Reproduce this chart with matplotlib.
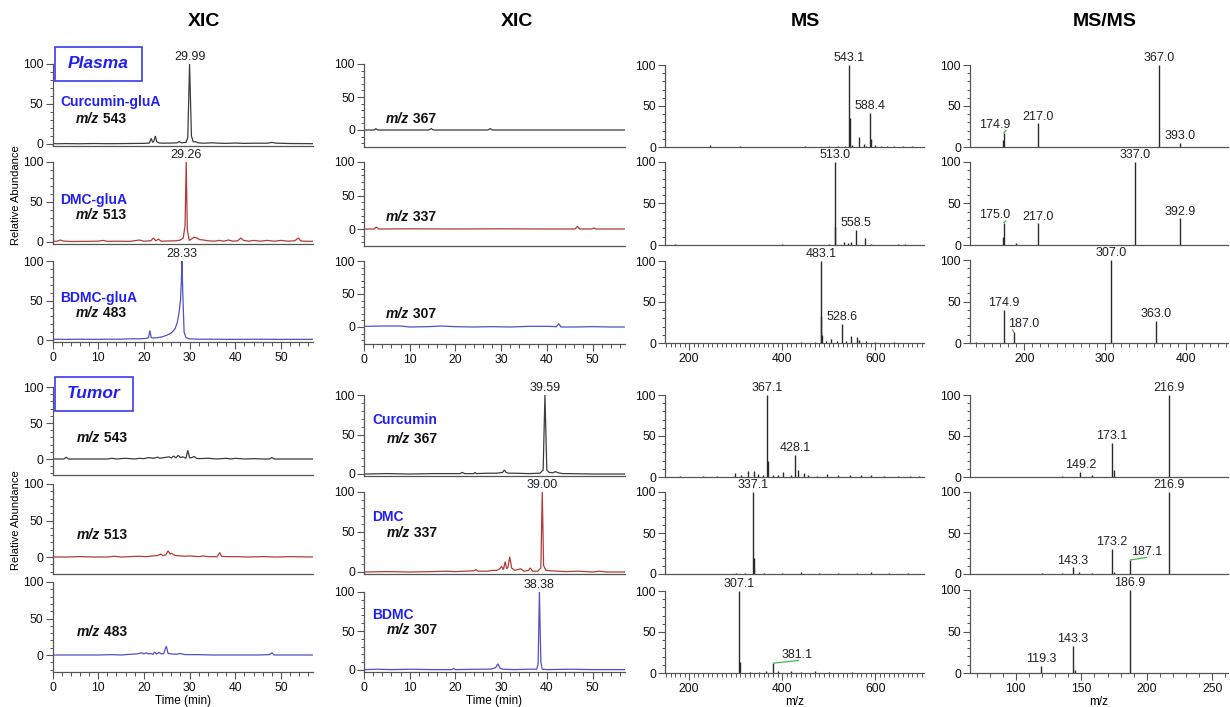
import matplotlib
matplotlib.use('Agg')
import matplotlib.pyplot as plt
from matplotlib.ticker import MultipleLocator, FixedLocator
from matplotlib.patches import Rectangle

# ---------------- DATA ----------------
col_titles = ["XIC", "XIC", "MS", "MS/MS"]

# Column 1: glucuronide XICs (plasma)
xic_p543_t = [0, 1, 3, 6, 9, 12, 15, 18, 20, 21.2, 21.6, 21.9, 22.2, 22.5, 22.8, 23.2, 24, 26, 27.3, 27.7, 28.2,
              29.2, 29.6, 29.99, 30.4, 30.8, 31.3, 31.8, 33, 35, 36.5, 38, 40, 42, 44, 47, 48, 49, 52, 57]
xic_p543_y = [0.5, 0.3, 0.5, 0.3, 0.6, 0.4, 0.5, 0.7, 0.8, 1.2, 7, 2, 4, 10, 3, 1.5, 1, 1.2, 1.5, 3, 1.5,
              2, 8, 100, 10, 2.5, 3, 1.5, 1, 1.5, 1, 0.8, 1.2, 0.8, 1, 1, 2, 1, 0.6, 0.4]
xic_p513_t = [0, 1, 1.7, 2.4, 4, 7, 10, 11, 12, 14, 17, 19, 20, 21.5, 22.1, 22.6, 23.2, 23.8, 25, 27, 28, 28.6,
              29.0, 29.26, 29.5, 29.9, 30.5, 31, 31.6, 32.2, 33, 34, 35.5, 36.5, 37.5, 38.5, 39.5, 40.5, 41.2,
              41.8, 43, 44, 45.5, 47, 48.5, 50, 51.5, 53, 53.8, 54.3, 55, 57]
xic_p513_y = [0.8, 1, 2.5, 1.2, 0.6, 0.8, 1, 2, 0.8, 1, 0.8, 2.5, 1, 1.5, 5, 1.5, 3.5, 1, 1.2, 1.5, 2.5, 5,
              20, 100, 15, 2, 4, 6, 5, 3, 2.5, 1.5, 1, 2, 1, 2.5, 1, 1.5, 5,
              2, 1, 2, 1, 2, 1, 2, 1, 1.5, 5, 1.5, 1, 0.8]
xic_p483_t = [0, 3, 6, 9, 12, 15, 17, 19, 20.5, 21.0, 21.3, 21.6, 22, 23, 24, 25, 26, 26.8, 27.3, 27.7, 28.0,
              28.2, 28.33, 28.5, 28.8, 29.2, 30, 32, 35, 40, 45, 50, 57]
xic_p483_y = [1, 0.8, 1, 0.8, 1, 1, 1.5, 1.5, 2, 3, 12, 3, 2.5, 3, 4, 6, 9, 14, 22, 35, 50,
              75, 100, 60, 10, 3, 1.5, 1, 1, 0.8, 1, 0.8, 0.8]

# Column 2: parent XICs (plasma)
xic_p367_t = [0, 2.2, 2.6, 3.0, 10, 14.2, 14.7, 15.2, 27.1, 27.6, 28.1, 57]
xic_p367_y = [0, 0, 2, 0, 0, 0, 2, 0, 0, 2, 0, 0]
xic_p337_t = [0, 2.2, 2.7, 3.2, 10, 20, 30, 40, 46.2, 46.7, 47.2, 49.8, 50.3, 50.8, 57]
xic_p337_y = [0, 0, 3, 0, 0.3, 0, 0.3, 0, 0, 4, 0, 0, 1.5, 0, 0]
xic_p307_t = [0, 4, 8, 10, 14, 17, 20, 24, 28, 32, 36, 40, 42.1, 42.6, 43.1, 46, 50, 54, 57]
xic_p307_y = [1, 1.5, 1.5, 0, 0.5, 1.5, 0.5, 0, 0.5, 0, 1, 1, 0.5, 5, 0, 0, 0.5, 0, 0]

# Column 1: glucuronide XICs (tumor)
xic_t543_t = [0, 2.5, 3, 3.5, 6, 9, 12, 13, 14, 16, 18, 19, 20, 21, 22, 23, 23.5, 24.5, 25.5, 26, 26.5, 27,
              27.5, 28, 28.5, 29.2, 29.6, 30.0, 30.5, 31, 31.5, 32, 34, 36, 38, 39, 40, 42, 44, 46, 47.5, 48,
              48.5, 52, 57]
xic_t543_y = [0, 0, 2.5, 0, 0, 0, 0, 1, 0, 1, 0, 1, 0.5, 2, 1, 2.5, 1, 2, 3, 1.5, 4, 1.5,
              5, 2, 3, 1, 12, 1.5, 2, 3.5, 1, 0.5, 1, 0, 1, 0, 1, 0, 0.5, 0, 0, 2,
              0, 0, 0]
xic_t513_t = [0, 3, 6, 9, 12, 13.5, 15, 17, 19, 20.5, 22, 23, 23.7, 24.2, 24.8, 25.3, 25.7, 26.1, 26.5, 27, 28,
              29, 30, 32, 33, 34, 36, 36.6, 37, 38, 40, 43, 46, 49, 52, 57]
xic_t513_y = [0, 0, 0.5, 0, 0, 1, 0, 0.5, 1, 0.5, 1.5, 2, 4, 2, 3, 8.5, 4, 5, 3, 2, 1.5,
              1, 1.5, 0.5, 1.5, 0.5, 0.5, 6, 1, 0.5, 0.5, 0, 0.5, 0, 0.5, 0]
xic_t483_t = [0, 5, 10, 13, 15, 17, 18.5, 19.5, 20, 20.5, 21, 21.5, 22, 22.3, 22.8, 23.3, 23.8, 24.3, 24.9, 25.3,
              26, 27, 28, 29, 30, 32, 35, 40, 45, 47.5, 48, 48.5, 52, 57]
xic_t483_y = [0, 0, 0, 0.5, 0, 1, 1.5, 3, 1.5, 3, 1.5, 2, 1, 4, 1.5, 3.5, 1.5, 2, 12, 2,
              1.5, 1, 2, 0.5, 0.5, 0.5, 0, 0, 0, 0.5, 3, 0, 0, 0]

# Column 2: parent XICs (tumor)
xic_t367_t = [0, 5, 10, 15, 20, 21, 21.5, 22, 24, 24.3, 24.6, 27, 29, 30.3, 30.7, 31.1, 31.6, 33, 36, 38.5,
              39.2, 39.59, 40.0, 40.5, 41.3, 41.9, 42.5, 43.5, 45, 50, 57]
xic_t367_y = [0, 0.5, 0, 0.5, 0.5, 0.5, 2, 0.5, 0.5, 2, 0.5, 1, 1, 2, 5, 2, 1, 1, 0.5, 1,
              5, 100, 5, 2, 1.5, 3, 1.5, 0.5, 0.5, 0, 0]
xic_t337_t = [0, 5, 10, 15, 18, 20, 22, 24, 24.5, 25, 27, 28, 29, 29.7, 30.1, 30.5, 30.9, 31.2, 31.5, 31.9,
              32.3, 33, 34.3, 35, 36, 36.4, 36.9, 38, 38.7, 39.0, 39.3, 39.8, 41, 44, 47, 50, 51.5, 53, 57]
xic_t337_y = [0, 0.5, 0, 0.5, 1, 0.5, 1, 1.5, 3, 1, 1, 2, 2, 4, 7, 3, 13, 4, 6, 19,
              5, 2, 4, 1, 2, 5, 1, 1, 5, 100, 8, 2, 1.5, 0.5, 1, 0, 1, 0, 0]
xic_t307_t = [0, 3, 6, 10, 15, 19.2, 19.6, 20, 25, 27, 28, 28.8, 29.3, 29.8, 30.5, 33, 36, 37.8, 38.1, 38.38,
              38.7, 39.0, 40, 45, 50, 57]
xic_t307_y = [0.5, 1, 0.5, 1, 0.5, 0.5, 2, 0.5, 1, 1, 1.5, 3, 8, 2, 1, 0.5, 1, 1, 8, 100,
              10, 1, 0.5, 1, 0.5, 0.5]

xic_peak_labels = {"p543": 29.99, "p513": 29.26, "p483": 28.33,
                   "t367": 39.59, "t337": 39.00, "t307": 38.38}

# Column 3: full-scan MS
ms_p1_mz = [245, 290, 310, 330, 400, 450, 470, 500, 520, 535, 543.1, 545, 550, 566, 576, 580, 588.4, 590, 600,
            612, 625, 640, 660, 680]
ms_p1_int = [2, 0.5, 0.8, 0.5, 0.5, 0.8, 0.5, 0.8, 1, 1.5, 100, 35, 3, 12, 4, 1.5, 42, 10, 2.5,
             1.5, 1.5, 1, 1, 0.8]
ms_p2_mz = [170, 260, 360, 380, 400, 430, 470, 500, 513.0, 514.0, 534, 541, 549, 558.5, 579, 590, 620, 650,
            665, 690]
ms_p2_int = [1, 0.5, 0.5, 0.5, 0.8, 0.5, 0.5, 1, 100, 22, 4, 3, 4, 18, 9, 1, 0.5, 1, 0.8, 0.5]
ms_p3_mz = [180, 250, 330, 400, 440, 470, 483.1, 484.5, 486, 495, 506, 517, 528.6, 538, 549, 560, 565, 580,
            600, 640, 680]
ms_p3_int = [0.5, 0.5, 0.5, 0.5, 0.8, 1, 100, 33, 10, 2, 5, 3, 23, 3, 9, 7, 4, 2, 1, 0.8, 0.5]
ms_t1_mz = [180, 230, 260, 298, 311, 327, 340, 348, 358, 367.1, 368.5, 381, 392, 402, 419, 428.1, 435, 446,
            455, 475, 496, 520, 545, 570, 590, 620, 650, 675, 695]
ms_t1_int = [1, 0.8, 1, 5, 3, 7, 7, 4, 2, 100, 20, 3, 2, 6, 2, 27, 8, 5,
             2, 1.5, 4, 2, 2, 2, 2.5, 1.5, 1.5, 1.5, 1.5]
ms_t2_mz = [200, 260, 300, 320, 337.1, 338.5, 339.5, 360, 400, 440, 480, 520, 560, 590, 630, 670]
ms_t2_int = [0.5, 0.5, 1, 1, 100, 20, 7, 1, 1, 2, 1, 0.8, 1, 2, 0.8, 1.5]
ms_t3_mz = [250, 290, 307.1, 308.5, 330, 350, 365, 381.1, 392, 420, 440, 470, 500, 550, 600]
ms_t3_int = [0.5, 0.5, 100, 14, 1, 1.5, 2, 12, 3, 3, 1.5, 2, 1, 0.8, 0.5]

# Column 4: MS/MS
msms_p1_mz = [150, 173.5, 174.9, 217.0, 367.0, 393.0]
msms_p1_int = [0.5, 9, 17, 29, 100, 5]
msms_p2_mz = [173.8, 175.0, 190, 217.0, 337.0, 392.9]
msms_p2_int = [10, 27, 2, 26, 100, 32]
msms_p3_mz = [140, 174.9, 187.0, 307.0, 363.0]
msms_p3_int = [1, 40, 13, 100, 27]
msms_t1_mz = [135, 149.2, 158, 173.1, 175, 216.9]
msms_t1_int = [1, 6, 3, 42, 9, 100]
msms_t2_mz = [120, 135, 143.3, 148, 158, 173.2, 175, 187.1, 216.9]
msms_t2_int = [1, 1, 8, 2, 1, 31, 2, 17, 100]
msms_t3_mz = [119.3, 143.3, 145, 186.9]
msms_t3_int = [9, 33, 4, 100]

labeled_ms = {
    "ms_p1": ["543.1", "588.4"], "ms_p2": ["513.0", "558.5"], "ms_p3": ["483.1", "528.6"],
    "ms_t1": ["367.1", "428.1"], "ms_t2": ["337.1"], "ms_t3": ["307.1", "381.1"],
    "msms_p1": ["174.9", "217.0", "367.0", "393.0"], "msms_p2": ["175.0", "217.0", "337.0", "392.9"],
    "msms_p3": ["174.9", "187.0", "307.0", "363.0"],
    "msms_t1": ["149.2", "173.1", "216.9"], "msms_t2": ["143.3", "173.2", "187.1", "216.9"],
    "msms_t3": ["119.3", "143.3", "186.9"],
}

plasma_names = ["Curcumin-gluA", "DMC-gluA", "BDMC-gluA"]
tumor_names = ["Curcumin", "DMC", "BDMC"]
glu_mz = ["543", "513", "483"]
par_mz = ["367", "337", "307"]

# ---------------- STYLE / LAYOUT ----------------
plt.rcParams['font.family'] = ['Liberation Sans', 'DejaVu Sans']
W, H = 1230, 707
fig = plt.figure(figsize=(W / 100, H / 100), dpi=100)

AX_C = '#555555'
TRACE_C = ['#3c3c3c', '#b23a3a', '#5050c8']
BLUE_T = '#2020f0'
GREEN = '#44bb44'


def fx(x):
    return x / W


def fy(y):
    return 1 - y / H


def add_panel(xr, yspec, xlim, bottom, xmaj, xmin_):
    x0, x1 = xr
    y100, y0, ybot = yspec
    ymin = -(ybot - y0) / (y0 - y100) * 100 if ybot != y0 else 0
    ax = fig.add_axes([fx(x0), fy(ybot), (x1 - x0) / W, (ybot - y100) / H])
    ax.set_xlim(*xlim)
    ax.set_ylim(ymin, 100)
    ax.patch.set_alpha(0)
    for s in ('top', 'right'):
        ax.spines[s].set_visible(False)
    for s in ('left', 'bottom'):
        ax.spines[s].set_color(AX_C)
        ax.spines[s].set_linewidth(0.9)
    ax.yaxis.set_major_locator(FixedLocator([0, 50, 100]))
    ax.yaxis.set_minor_locator(MultipleLocator(10))
    ax.tick_params(axis='y', which='major', length=5, width=0.8, color=AX_C,
                   labelsize=8.8, pad=1.5, labelcolor='#111111')
    ax.tick_params(axis='y', which='minor', length=2.5, width=0.7, color=AX_C)
    if bottom:
        ax.xaxis.set_major_locator(FixedLocator(xmaj))
        ax.xaxis.set_minor_locator(MultipleLocator(xmin_))
        ax.tick_params(axis='x', which='major', length=5, width=0.8, color=AX_C,
                       labelsize=8.8, pad=2, labelcolor='#111111')
        ax.tick_params(axis='x', which='minor', length=3, width=0.7, color=AX_C)
    else:
        ax.tick_params(axis='x', which='both', length=0, labelbottom=False)
    return ax


C1, C2, C3, C4 = (52.5, 313), (364, 624.5), (665, 924), (970, 1228)
rows = {
    'c1p': [(64, 144, 146), (162, 242, 244), (261, 340, 342)],
    'c1t': [(387, 459, 475), (484, 557, 574), (582, 655, 672)],
    'c2p': [(64, 130, 147), (162, 229, 246), (261, 327, 344)],
    'c2t': [(395, 474, 476), (492, 572, 574), (592, 670, 672)],
    'c3p': [(65, 147, 147), (162, 245, 245), (261, 343, 343)],
    'c3t': [(395, 477, 477), (492, 574, 574), (591, 673, 673)],
    'c4p': [(65, 147, 147), (162, 245, 245), (260, 343, 343)],
    'c4t': [(395, 477, 477), (492, 574, 574), (590, 673, 673)],
}

xic_sets = {
    'c1p': [(xic_p543_t, xic_p543_y, 'p543'), (xic_p513_t, xic_p513_y, 'p513'), (xic_p483_t, xic_p483_y, 'p483')],
    'c2p': [(xic_p367_t, xic_p367_y, None), (xic_p337_t, xic_p337_y, None), (xic_p307_t, xic_p307_y, None)],
    'c1t': [(xic_t543_t, xic_t543_y, None), (xic_t513_t, xic_t513_y, None), (xic_t483_t, xic_t483_y, None)],
    'c2t': [(xic_t367_t, xic_t367_y, 't367'), (xic_t337_t, xic_t337_y, 't337'), (xic_t307_t, xic_t307_y, 't307')],
}
ms_sets = {
    'c3p': [(ms_p1_mz, ms_p1_int, 'ms_p1'), (ms_p2_mz, ms_p2_int, 'ms_p2'), (ms_p3_mz, ms_p3_int, 'ms_p3')],
    'c3t': [(ms_t1_mz, ms_t1_int, 'ms_t1'), (ms_t2_mz, ms_t2_int, 'ms_t2'), (ms_t3_mz, ms_t3_int, 'ms_t3')],
    'c4p': [(msms_p1_mz, msms_p1_int, 'msms_p1'), (msms_p2_mz, msms_p2_int, 'msms_p2'),
            (msms_p3_mz, msms_p3_int, 'msms_p3')],
    'c4t': [(msms_t1_mz, msms_t1_int, 'msms_t1'), (msms_t2_mz, msms_t2_int, 'msms_t2'),
            (msms_t3_mz, msms_t3_int, 'msms_t3')],
}

# labels displaced from their peak and tied to it with a green line:
# (label x, label y, relative x of the line end under the label)
offset_labels = {
    ('msms_p1', '174.9'): (164, 20, 0.85), ('msms_p2', '175.0'): (164, 29, 0.85),
    ('msms_p3', '187.0'): (199, 16, 0.15), ('msms_t2', '187.1'): (200, 20, 0.5),
    ('ms_t3', '381.1'): (432, 15, 0.55),
}

# XIC panels
for key, xr in (('c1p', C1), ('c2p', C2), ('c1t', C1), ('c2t', C2)):
    for i, (t, y, lab) in enumerate(xic_sets[key]):
        ax = add_panel(xr, rows[key][i], (0, 57), i == 2, [0, 10, 20, 30, 40, 50], 2)
        ax.plot(t, y, color=TRACE_C[i], lw=0.9, solid_joinstyle='miter')
        if lab:
            pk = xic_peak_labels[lab]
            ax.annotate(f"{pk:.2f}", (pk, 100), xytext=(0, 0.5), textcoords='offset points',
                        ha='center', va='bottom', fontsize=9, color='#222222', annotation_clip=False)
        if i == 2 and key in ('c1t', 'c2t'):
            ax.set_xlabel('Time (min)', fontsize=8.5, labelpad=1)

# MS panels
for key, xr in (('c3p', C3), ('c3t', C3), ('c4p', C4), ('c4t', C4)):
    if key.startswith('c3'):
        xlim, xmaj, xmn = (148, 705), [200, 400, 600], 10
    elif key == 'c4p':
        xlim, xmaj, xmn = (133, 452), [200, 300, 400], 10
    else:
        xlim, xmaj, xmn = (65, 262), [100, 150, 200, 250], 10
    for i, (mz, inten, name) in enumerate(ms_sets[key]):
        ax = add_panel(xr, rows[key][i], xlim, i == 2, xmaj, xmn)
        ax.vlines(mz, 0, inten, color='#2a2a2a', lw=1.0)
        for m, v in zip(mz, inten):
            lab = f"{m:.1f}"
            if lab not in labeled_ms[name]:
                continue
            if (name, lab) in offset_labels:
                lx, ly, rp = offset_labels[(name, lab)]
                ax.annotate(lab, (m, v), xytext=(lx, ly), textcoords='data', ha='center', va='bottom',
                            fontsize=9, color='#222222', annotation_clip=False,
                            arrowprops=dict(arrowstyle='-', color=GREEN, lw=0.9, shrinkA=0, shrinkB=0,
                                            patchA=None, relpos=(rp, 0.02)))
            else:
                ax.annotate(lab, (m, v), xytext=(0, 0.5), textcoords='offset points', ha='center',
                            va='bottom', fontsize=9, color='#222222', annotation_clip=False)
        if i == 2 and key.endswith('t'):
            ax.set_xlabel('m/z', fontsize=8.5, labelpad=1)

# ---------------- TEXT ----------------
for title, xc in zip(col_titles, (204, 517, 805, 1105)):
    fig.text(fx(xc), fy(22), title, ha='center', va='center', fontsize=14, weight='bold',
             family=['Liberation Sans Narrow', 'Liberation Sans', 'DejaVu Sans'])

for yc in (195, 520):
    fig.text(fx(16), fy(yc), 'Relative Abundance', rotation=90, ha='center', va='center', fontsize=8)

# boxed group labels
for (x0, y0, x1, y1), name in (((55, 47, 142, 81), 'Plasma'), ((55, 377, 133, 411), 'Tumor')):
    fig.add_artist(Rectangle((fx(x0), fy(y1)), (x1 - x0) / W, (y1 - y0) / H, transform=fig.transFigure,
                             fill=False, ec='#3a3aee', lw=1.2))
    fig.text(fx((x0 + x1) / 2), fy((y0 + y1) / 2), name, ha='center', va='center', fontsize=12.5,
             weight='bold', style='italic', color=BLUE_T)

anchor_ax = fig.axes[0]


def mz_label(x, y, num):
    t1 = fig.text(fx(x), fy(y), 'm/z', ha='left', va='baseline', fontsize=10, weight='bold',
                  style='italic', color='#111111')
    anchor_ax.annotate(' ' + num, xy=(1, 0), xycoords=t1, ha='left', va='bottom', fontsize=10,
                       weight='bold', color='#111111')


for name, num, yn, ym in zip(plasma_names, glu_mz, (102, 200, 298), (123, 219, 317)):
    fig.text(fx(60), fy(yn), name, ha='left', va='center', fontsize=10, weight='bold', color=BLUE_T)
    mz_label(76, ym, num)
for num, ym in zip(par_mz, (123, 221, 318)):
    mz_label(386, ym, num)
for num, ym in zip(glu_mz, (442, 539, 636)):
    mz_label(77, ym, num)
for name, num, yn, ym in zip(tumor_names, par_mz, (420, 517, 615), (443, 537, 634)):
    fig.text(fx(372), fy(yn), name, ha='left', va='center', fontsize=10, weight='bold', color=BLUE_T)
    mz_label(387, ym, num)

fig.savefig('out.png', dpi=100)
